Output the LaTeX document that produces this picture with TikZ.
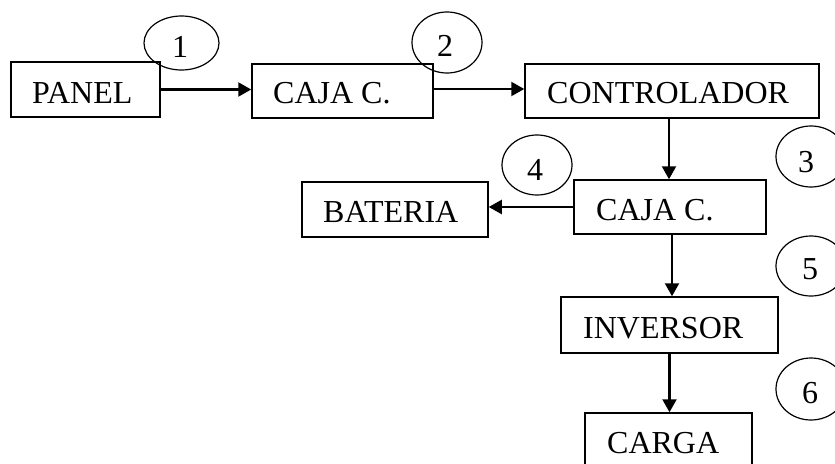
\documentclass[tikz,border=0pt]{standalone}
\usepackage{fontspec}
\setmainfont{Liberation Serif}
\usetikzlibrary{arrows.meta,shapes.geometric}
\begin{document}
\begin{tikzpicture}[x=1pt,y=-1pt,
  box/.style={draw,line width=1.5pt,rectangle,inner sep=0pt},
  lbl/.style={anchor=base west,inner sep=0pt,font=\fontsize{32}{38}\selectfont},
  num/.style={draw,line width=1.2pt,ellipse,inner sep=0pt},
  arr/.style={line width=2.2pt,-{Triangle[length=13pt,width=14pt]}}]
\clip (0,0) rectangle (835,463);
\fill[white] (0,0) rectangle (835,463);
% boxes
\node[box,minimum width=149pt,minimum height=55pt] (panel) at (85.5,89.5) {};
\node[box,minimum width=181pt,minimum height=54pt] (caja1) at (342.5,91) {};
\node[box,minimum width=294pt,minimum height=54pt] (ctrl) at (672,91) {};
\node[box,minimum width=192pt,minimum height=54pt] (caja2) at (670,207) {};
\node[box,minimum width=186pt,minimum height=55pt] (bat) at (395,209.5) {};
\node[box,minimum width=217pt,minimum height=56pt] (inv) at (669.5,325) {};
\node[box,minimum width=167pt,minimum height=62pt] (carga) at (668.5,444) {};
% texts
\node[lbl] (tpanel) at (32,103) {PANEL};
\node[lbl] (tcaja1) at (273,103) {CAJA C.};
\node[lbl] (tctrl) at (547,103) {CONTROLADOR};
\node[lbl] (tcaja2) at (596,220) {CAJA C.};
\node[lbl] (tbat) at (323,222) {BATERIA};
\node[lbl] (tinv) at (583,338) {INVERSOR};
\node[lbl] (tcarga) at (607,453) {CARGA};
% ellipses
\node[num,minimum width=75pt,minimum height=54pt] (e1) at (181.5,43) {};
\node[num,minimum width=70pt,minimum height=61pt] (e2) at (447,42.5) {};
\node[num,minimum width=70pt,minimum height=61pt] (e3) at (811,156.5) {};
\node[num,minimum width=70pt,minimum height=60pt] (e4) at (537,165) {};
\node[num,minimum width=70pt,minimum height=60pt] (e5) at (811,266) {};
\node[num,minimum width=70pt,minimum height=62pt] (e6) at (811,389) {};
\node[lbl] (n1) at (172,57) {1};
\node[lbl] (n2) at (437,56) {2};
\node[lbl] (n3) at (798,172) {3};
\node[lbl] (n4) at (527,180) {4};
\node[lbl] (n5) at (802,279) {5};
\node[lbl] (n6) at (802,403) {6};
% arrows
\draw[arr] ([xshift=-2pt]panel.east) -- (panel.east -| caja1.west);
\draw[arr] ([xshift=-2pt,yshift=2pt]caja1.east) -- ([yshift=2pt]caja1.east -| ctrl.west);
\draw[arr] ([xshift=-3pt]ctrl.south) -- ([xshift=-3pt]ctrl.south |- caja2.north);
\draw[arr] (caja2.west) -- (caja2.west -| bat.east);
\draw[arr] ([xshift=2pt]caja2.south) -- ([xshift=2pt]caja2.south |- inv.north);
\draw[arr] (inv.south) -- (inv.south |- carga.north);
\end{tikzpicture}
\end{document}
